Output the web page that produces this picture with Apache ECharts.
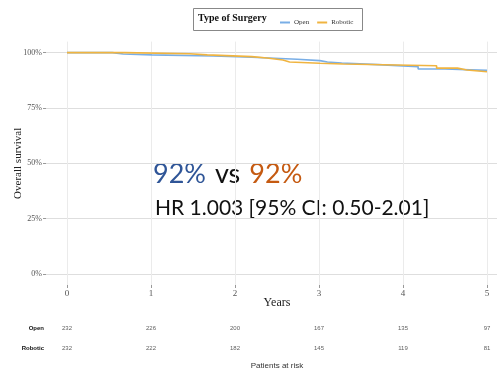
<!DOCTYPE html>
<html>
<head>
<meta charset="utf-8">
<script src="https://cdn.jsdelivr.net/npm/echarts@6/dist/echarts.min.js"></script>
<style>html,body{margin:0;padding:0;background:#fff}#c{width:497px;height:371px}</style>
</head>
<body>
<div id="c"></div>
<script>
// Kaplan-Meier step data (time in years, survival %)
var openTimes = [0, 0.54, 0.67, 1.01, 1.74, 2.2, 2.74, 3.01, 3.1, 3.27, 3.7, 4.18, 4.5, 5.0];
var openSurv  = [100, 99.4, 99.0, 98.5, 97.9, 97.0, 96.4, 95.8, 95.3, 94.6, 93.7, 92.6, 92.0, 92.0];
var roboticTimes = [0, 0.69, 1.46, 1.67, 2.2, 2.38, 2.57, 2.65, 3.01, 3.29, 4.4, 4.65, 4.76, 5.0];
var roboticSurv  = [100, 99.5, 99.0, 98.2, 97.6, 96.7, 95.8, 95.2, 94.9, 94.1, 93.0, 92.2, 91.4, 91.4];
// Numbers at risk
var riskYears = [0, 1, 2, 3, 4, 5];
var openRisk = [232, 226, 200, 167, 135, 97];
var roboticRisk = [232, 222, 182, 145, 119, 81];
var yTicks = [0, 25, 50, 75, 100];
var groups = ['Open', 'Robotic'];

function pairs(t, s) { return t.map(function (v, i) { return [v, s[i]]; }); }
var riskData = [];
riskYears.forEach(function (y, i) {
  riskData.push([y, 'Open', openRisk[i]]);
  riskData.push([y, 'Robotic', roboticRisk[i]]);
});

var serif = '"Liberation Serif", "DejaVu Serif", serif';
var sans = '"Liberation Sans", Arial, sans-serif';
var blue = '#79aee6', orange = '#f0b440';

var chart = echarts.init(document.getElementById('c'));
chart.setOption({
  animation: false,
  backgroundColor: '#fff',
  grid: [
    { left: 46, top: 41.6, width: 462, height: 243.4, outerBoundsMode: 'none', containLabel: false },
    { left: 46, top: 318, width: 462, height: 40, outerBoundsMode: 'none', containLabel: false }
  ],
  legend: {
    data: groups,
    left: 275, top: 14,
    itemWidth: 10, itemHeight: 2, itemGap: 8,
    icon: 'rect',
    textStyle: { fontFamily: serif, fontSize: 7, color: '#333', padding: [0, 0, 0, -1] }
  },
  xAxis: [
    {
      gridIndex: 0, type: 'value', min: -0.25, max: 5.25,
      axisLine: { show: false, onZero: false },
      axisTick: { show: true, customValues: riskYears, length: 3, lineStyle: { color: '#999' } },
      axisLabel: { customValues: riskYears, fontFamily: serif, fontSize: 9, color: '#555', margin: 4 },
      splitLine: { show: true, lineStyle: { color: '#ebebeb', width: 1 } },
      name: 'Years', nameLocation: 'middle', nameGap: 12, nameMoveOverlap: false,
      nameTextStyle: { fontFamily: serif, fontSize: 12, color: '#222', verticalAlign: 'top' }
    },
    {
      gridIndex: 1, type: 'value', min: -0.25, max: 5.25,
      axisLine: { show: false, onZero: false }, axisTick: { show: false }, axisLabel: { show: false },
      splitLine: { show: false },
      name: 'Patients at risk', nameLocation: 'middle', nameGap: 4, nameMoveOverlap: false,
      nameTextStyle: { fontFamily: sans, fontSize: 8, color: '#333', verticalAlign: 'top' }
    }
  ],
  yAxis: [
    {
      gridIndex: 0, type: 'value', min: -5, max: 105,
      axisLine: { show: false, onZero: false },
      axisTick: { show: true, customValues: yTicks, length: 3, lineStyle: { color: '#999' } },
      axisLabel: { customValues: yTicks, formatter: '{value}%', fontFamily: serif, fontSize: 8, color: '#555', margin: 4 },
      splitLine: { show: true, lineStyle: { color: '#dedede', width: 1 } },
      name: 'Overall survival', nameLocation: 'middle', nameGap: 28, nameRotate: 90, nameMoveOverlap: false,
      nameTextStyle: { fontFamily: serif, fontSize: 11, color: '#222', verticalAlign: 'middle' }
    },
    {
      gridIndex: 1, type: 'category', data: groups, inverse: true,
      axisLine: { show: false, onZero: false }, axisTick: { show: false },
      axisLabel: { fontFamily: sans, fontSize: 6, fontWeight: 'bold', color: '#111', margin: 2 },
      splitLine: { show: false }
    }
  ],
  series: [
    {
      name: 'Open', type: 'line', step: 'end', xAxisIndex: 0, yAxisIndex: 0,
      data: pairs(openTimes, openSurv), showSymbol: false, color: blue,
      lineStyle: { width: 1.6, color: blue }
    },
    {
      name: 'Robotic', type: 'line', step: 'end', xAxisIndex: 0, yAxisIndex: 0,
      data: pairs(roboticTimes, roboticSurv), showSymbol: false, color: orange,
      lineStyle: { width: 1.6, color: orange }
    },
    {
      type: 'scatter', xAxisIndex: 1, yAxisIndex: 1, data: riskData,
      symbolSize: 1, itemStyle: { color: 'rgba(0,0,0,0)' }, silent: true,
      label: { show: true, position: 'inside', formatter: function (p) { return String(p.value[2]); },
               fontFamily: sans, fontSize: 6, color: '#333' }
    }
  ],
  graphic: [
    { type: 'rect', left: 193, top: 8, shape: { width: 169, height: 22 },
      style: { fill: '#fff', stroke: '#888', lineWidth: 1 }, z: -1 },
    { type: 'text', left: 198, top: 13,
      style: { text: 'Type of Surgery', font: 'bold 10px ' + serif, fill: '#111' } },
    { type: 'text', left: 153, top: 161,
      style: { rich: {
        b: { fontFamily: 'Lato', fontSize: 27, fill: '#2f5597' },
        k: { fontFamily: 'Lato', fontSize: 27, fill: '#111', padding: [0, 9, 0, 9] },
        o: { fontFamily: 'Lato', fontSize: 27, fill: '#c55a11' }
      }, text: '{b|92%}{k|vs}{o|92%}' } },
    { type: 'text', left: 155, top: 198,
      style: { text: 'HR 1.003 [95% CI: 0.50-2.01]', font: '21px Lato', fill: '#111' } }
  ]
});
</script>
</body>
</html>
